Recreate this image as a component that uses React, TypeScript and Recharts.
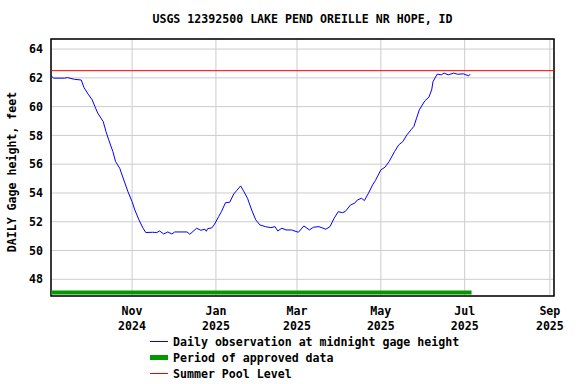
import {
  LineChart,
  Line,
  XAxis,
  YAxis,
  CartesianGrid,
  ReferenceLine,
  ReferenceArea,
} from 'recharts';

const FONT = '"DejaVu Sans Mono", "Liberation Mono", monospace';

const title = 'USGS 12392500 LAKE PEND OREILLE NR HOPE, ID';
const yAxisTitle = 'DAILY Gage height, feet';

// daily gage height (feet)
const obsDates = [
  '2024-09-03', '2024-09-05', '2024-09-13', '2024-09-15', '2024-09-20', '2024-09-25',
  '2024-09-27', '2024-09-30', '2024-10-03', '2024-10-05', '2024-10-07', '2024-10-11',
  '2024-10-13', '2024-10-15', '2024-10-18', '2024-10-20', '2024-10-23', '2024-10-26',
  '2024-10-29', '2024-11-01', '2024-11-03', '2024-11-06', '2024-11-09', '2024-11-11',
  '2024-11-16', '2024-11-19', '2024-11-21', '2024-11-24', '2024-11-27', '2024-11-30',
  '2024-12-02', '2024-12-11', '2024-12-13', '2024-12-18', '2024-12-21', '2024-12-24',
  '2024-12-25', '2024-12-26', '2024-12-29', '2024-12-31', '2025-01-03', '2025-01-05',
  '2025-01-08', '2025-01-11', '2025-01-14', '2025-01-16', '2025-01-19', '2025-01-21',
  '2025-01-24', '2025-01-27', '2025-01-30', '2025-02-02', '2025-02-06', '2025-02-10',
  '2025-02-13', '2025-02-15', '2025-02-18', '2025-02-21', '2025-02-25', '2025-03-02',
  '2025-03-06', '2025-03-10', '2025-03-13', '2025-03-17', '2025-03-20', '2025-03-22',
  '2025-03-25', '2025-03-28', '2025-03-31', '2025-04-03', '2025-04-05', '2025-04-09',
  '2025-04-12', '2025-04-14', '2025-04-17', '2025-04-19', '2025-04-22', '2025-04-25',
  '2025-04-27', '2025-05-01', '2025-05-04', '2025-05-07', '2025-05-11', '2025-05-14',
  '2025-05-17', '2025-05-20', '2025-05-23', '2025-05-25', '2025-05-27', '2025-05-29',
  '2025-06-02', '2025-06-05', '2025-06-07', '2025-06-08', '2025-06-11', '2025-06-14',
  '2025-06-16', '2025-06-19', '2025-06-23', '2025-06-26', '2025-06-30', '2025-07-04',
  '2025-07-05',
];
const obsValues = [
  62.14, 61.98, 61.98, 62.02, 61.9, 61.85,
  61.33, 60.87, 60.47, 60.0, 59.55, 58.96,
  58.27, 57.69, 56.88, 56.18, 55.72, 54.9,
  54.09, 53.4, 52.82, 52.13, 51.55, 51.25,
  51.27, 51.25, 51.36, 51.15, 51.29, 51.15,
  51.29, 51.29, 51.13, 51.55, 51.41, 51.48,
  51.34, 51.52, 51.57, 51.83, 52.36, 52.7,
  53.33, 53.35, 53.93, 54.16, 54.49, 54.16,
  53.63, 52.82, 52.13, 51.78, 51.66, 51.59,
  51.66, 51.36, 51.55, 51.43, 51.43, 51.27,
  51.71, 51.43, 51.62, 51.66, 51.55, 51.48,
  51.66, 52.24, 52.7, 52.63, 52.7, 53.17,
  53.29, 53.52, 53.63, 53.47, 53.98, 54.56,
  54.86, 55.6, 55.79, 56.18, 56.88, 57.34,
  57.57, 58.04, 58.39, 58.62, 59.2, 59.78,
  60.4, 60.66, 61.17, 61.75, 62.26, 62.21,
  62.33, 62.21, 62.33, 62.25, 62.28, 62.14,
  62.26,
];

// approved-data period bar
const approvedDates = ['2024-09-03', '2025-07-06'];
const approvedLevel = 47.08;

const summerPool = 62.5;

const xDomainDates = ['2024-09-03', '2025-09-04'];
const xTickDates = ['2024-11-01', '2025-01-01', '2025-03-01', '2025-05-01', '2025-07-01', '2025-09-01'];
const monthNames = ['Jan', 'Feb', 'Mar', 'Apr', 'May', 'Jun', 'Jul', 'Aug', 'Sep', 'Oct', 'Nov', 'Dec'];
const yTicks = [48, 50, 52, 54, 56, 58, 60, 62, 64];
const yDomain = [46.84, 64.7];

const toDay = (s: string) => {
  const [y, m, d] = s.split('-').map(Number);
  return Date.UTC(y, m - 1, d) / 86400000;
};

const obsData = obsDates.map((d, i) => ({ day: toDay(d), value: obsValues[i] }));
const approvedData = approvedDates.map((d) => ({ day: toDay(d), value: approvedLevel }));
const xDomain = xDomainDates.map(toDay);
const xTicks = xTickDates.map(toDay);

function MonthTick(props: any) {
  const { x, y, payload } = props;
  const dt = new Date(payload.value * 86400000);
  return (
    <g>
      <text x={x} y={y + 11} textAnchor="middle" fontFamily={FONT} fontWeight="bold" fontSize={11.6} fill="#000">
        {monthNames[dt.getUTCMonth()]}
      </text>
      <text x={x} y={y + 26} textAnchor="middle" fontFamily={FONT} fontWeight="bold" fontSize={11.6} fill="#000">
        {dt.getUTCFullYear()}
      </text>
    </g>
  );
}

const legendItems = [
  { label: 'Daily observation at midnight gage height', color: '#0000ff', width: 1 },
  { label: 'Period of approved data', color: '#009900', width: 5 },
  { label: 'Summer Pool Level', color: '#ff0000', width: 1 },
];

export default function App() {
  return (
    <div style={{ position: 'absolute', left: 0, top: 0, width: 576, height: 384, background: '#fff' }}>
      <div
        style={{
          position: 'absolute',
          left: 51,
          width: 503,
          top: 11,
          textAlign: 'center',
          fontFamily: FONT,
          fontWeight: 'bold',
          fontSize: 11.6,
          lineHeight: '16px',
        }}
      >
        {title}
      </div>
      <LineChart
        width={576}
        height={384}
        data={obsData}
        margin={{ top: 39, right: 22, bottom: 48, left: 0 }}
      >
        <CartesianGrid stroke="#cccccc" />
        <XAxis
          dataKey="day"
          type="number"
          domain={xDomain}
          ticks={xTicks}
          allowDataOverflow
          tick={<MonthTick />}
          tickLine={false}
          axisLine={false}
          height={40}
          interval={0}
        />
        <YAxis
          type="number"
          domain={yDomain}
          ticks={yTicks}
          allowDataOverflow
          width={51}
          tickLine={false}
          axisLine={false}
          tick={{ fontFamily: FONT, fontWeight: 'bold', fontSize: 11.6, fill: '#000' }}
          interval={0}
          label={{
            content: () => (
              <text
                x={16}
                y={172}
                transform="rotate(-90 16 172)"
                textAnchor="middle"
                fontFamily={FONT}
                fontWeight="bold"
                fontSize={11.6}
                fill="#000"
              >
                {yAxisTitle}
              </text>
            ),
          }}
        />
        <ReferenceLine y={summerPool} stroke="#ff0000" strokeWidth={1} ifOverflow="hidden" />
        <Line
          data={approvedData}
          dataKey="value"
          type="linear"
          stroke="#009900"
          strokeWidth={4}
          dot={false}
          activeDot={false}
          isAnimationActive={false}
        />
        <Line
          dataKey="value"
          type="linear"
          stroke="#0000ff"
          strokeWidth={1}
          dot={false}
          activeDot={false}
          isAnimationActive={false}
        />
        <ReferenceArea
          x1={xDomain[0]}
          x2={xDomain[1]}
          y1={yDomain[0]}
          y2={yDomain[1]}
          fill="none"
          stroke="#000"
          strokeWidth={1.5}
        />
      </LineChart>
      <svg width={576} height={60} style={{ position: 'absolute', left: 0, top: 326 }}>
        {legendItems.map((item, i) => {
          const cy = 15 + i * 16;
          return (
            <g key={item.label}>
              <line x1={150} x2={168} y1={cy + 0.5} y2={cy + 0.5} stroke={item.color} strokeWidth={item.width} />
              <text
                x={173}
                y={cy + 4.5}
                fontFamily={FONT}
                fontWeight="bold"
                fontSize={11.6}
                fill="#000"
              >
                {item.label}
              </text>
            </g>
          );
        })}
      </svg>
    </div>
  );
}
